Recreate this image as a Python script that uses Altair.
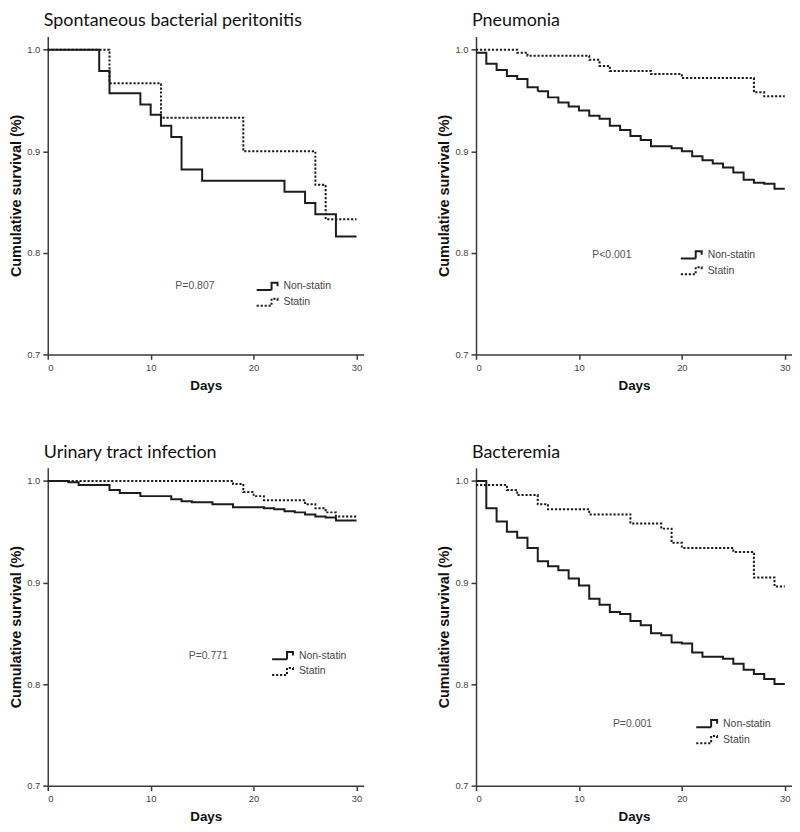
import altair as alt
import pandas as pd

groups = ["Non-statin", "Statin"]
x_ticks = [0, 10, 20, 30]
y_ticks = [0.7, 0.8, 0.9, 1.0]

panel_titles = ["Spontaneous bacterial peritonitis", "Pneumonia",
                "Urinary tract infection", "Bacteremia"]
p_labels = ["P=0.807", "P<0.001", "P=0.771", "P=0.001"]

# Spontaneous bacterial peritonitis
sbp_non_days = [0, 5, 6, 9, 10, 11, 12, 13, 15, 23, 25, 26, 28, 30]
sbp_non_surv = [1.0, 0.979, 0.957, 0.946, 0.936, 0.925, 0.914, 0.882, 0.871,
                0.860, 0.849, 0.838, 0.816, 0.816]
sbp_sta_days = [0, 6, 11, 19, 26, 27, 30]
sbp_sta_surv = [1.0, 0.967, 0.933, 0.900, 0.867, 0.833, 0.833]

# Pneumonia
pn_non_days = [0, 1, 2, 3, 4, 5, 6, 7, 8, 9, 10, 11, 12, 13, 14, 15, 16, 17,
               19, 20, 21, 22, 23, 24, 25, 26, 27, 28, 29, 30]
pn_non_surv = [0.997, 0.986, 0.980, 0.974, 0.971, 0.963, 0.959, 0.953, 0.948,
               0.944, 0.940, 0.935, 0.932, 0.925, 0.921, 0.915, 0.911, 0.905,
               0.903, 0.900, 0.895, 0.891, 0.888, 0.884, 0.879, 0.872, 0.869,
               0.868, 0.863, 0.863]
pn_sta_days = [0, 4, 5, 11, 12, 13, 17, 20, 27, 28, 30]
pn_sta_surv = [1.0, 0.997, 0.994, 0.990, 0.984, 0.979, 0.976, 0.972, 0.958,
               0.954, 0.954]

# Urinary tract infection
uti_non_days = [0, 2, 3, 6, 7, 9, 12, 13, 14, 16, 18, 21, 22, 23, 24, 25, 26,
                27, 28, 30]
uti_non_surv = [1.0, 0.9987, 0.996, 0.991, 0.988, 0.985, 0.982, 0.980, 0.979,
                0.977, 0.974, 0.973, 0.972, 0.970, 0.969, 0.967, 0.965, 0.964,
                0.961, 0.961]
uti_sta_days = [0, 18, 19, 20, 21, 25, 26, 27, 28, 30]
uti_sta_surv = [1.0, 0.997, 0.989, 0.985, 0.981, 0.977, 0.973, 0.969, 0.965,
                0.965]

# Bacteremia
bac_non_days = [0, 1, 2, 3, 4, 5, 6, 7, 8, 9, 10, 11, 12, 13, 14, 15, 16, 17,
                18, 19, 20, 21, 22, 24, 25, 26, 27, 28, 29, 30]
bac_non_surv = [1.0, 0.973, 0.960, 0.950, 0.944, 0.934, 0.921, 0.916, 0.912,
                0.904, 0.897, 0.884, 0.878, 0.871, 0.869, 0.862, 0.858, 0.850,
                0.848, 0.841, 0.840, 0.831, 0.827, 0.825, 0.820, 0.814, 0.810,
                0.805, 0.800, 0.800]
bac_sta_days = [0, 3, 4, 6, 7, 11, 15, 18, 19, 20, 25, 27, 29, 30]
bac_sta_surv = [0.996, 0.991, 0.986, 0.977, 0.972, 0.967, 0.958, 0.953, 0.939,
                0.934, 0.930, 0.905, 0.896, 0.896]

# annotation anchor points (day, survival) for P text and legend
p_anchor = [(14.3, 0.767), (13.2, 0.798), (15.6, 0.828), (15.2, 0.761)]
legend_anchor = [(20.2, 0.767), (19.8, 0.798), (21.7, 0.828), (21.3, 0.761)]

series = [
    (sbp_non_days, sbp_non_surv, sbp_sta_days, sbp_sta_surv),
    (pn_non_days, pn_non_surv, pn_sta_days, pn_sta_surv),
    (uti_non_days, uti_non_surv, uti_sta_days, uti_sta_surv),
    (bac_non_days, bac_non_surv, bac_sta_days, bac_sta_surv),
]

W, H = 318, 320
X_MAX, Y_MIN, Y_MAX = 30.7, 0.7, 1.013
INK = "#1c1c1c"
AXC = "#3a3a3a"
SYMBOL = "M-1,0.3H0.25V-0.3H0.75V0"


def panel(i):
    nd, ns, sd, ss = series[i]
    df = pd.concat([
        pd.DataFrame({"day": nd, "surv": ns, "group": groups[0]}),
        pd.DataFrame({"day": sd, "surv": ss, "group": groups[1]}),
    ])
    lx = legend_anchor[i][0] / X_MAX * W
    ly = (Y_MAX - legend_anchor[i][1]) / (Y_MAX - Y_MIN) * H - 8
    lines = alt.Chart(df).mark_line(
        interpolate="step-after", strokeWidth=2, color=INK
    ).encode(
        x=alt.X("day:Q", scale=alt.Scale(domain=[0, X_MAX], nice=False),
                axis=alt.Axis(values=x_ticks, title="Days", grid=False,
                              domainColor=AXC, domainWidth=1.5,
                              tickColor=AXC, tickWidth=1.5, tickSize=5,
                              labelFont="Liberation Sans", labelFontSize=9.5,
                              labelColor="#444", labelPadding=3,
                              titleFont="Liberation Sans", titleFontSize=13.5,
                              titleFontWeight="bold", titleColor="#111",
                              titlePadding=7)),
        y=alt.Y("surv:Q", scale=alt.Scale(domain=[Y_MIN, Y_MAX], nice=False, zero=False),
                axis=alt.Axis(values=y_ticks, format=".1f",
                              title="Cumulative survival (%)", grid=False,
                              domainColor=AXC, domainWidth=1.5,
                              tickColor=AXC, tickWidth=1.5, tickSize=5,
                              labelFont="Liberation Sans", labelFontSize=9.5,
                              labelColor="#444", labelPadding=3,
                              titleFont="Liberation Sans", titleFontSize=14.5,
                              titleFontWeight="bold", titleColor="#111",
                              titlePadding=3)),
        strokeDash=alt.StrokeDash(
            "group:N",
            scale=alt.Scale(domain=groups, range=[[1, 0], [2.2, 1.8]]),
            legend=alt.Legend(orient="none", legendX=lx, legendY=ly,
                              title=None, symbolType=SYMBOL, symbolSize=576,
                              symbolStrokeWidth=2, symbolStrokeColor=INK,
                              symbolFillColor="transparent",
                              labelFont="Liberation Sans", labelFontSize=10.5,
                              labelColor="#444", labelOffset=2,
                              clipHeight=16, rowPadding=0, padding=0),
        ),
    )
    ptxt = alt.Chart(pd.DataFrame({"label": [p_labels[i]]})).mark_text(
        font="Liberation Sans", fontSize=10.5, color="#555",
        align="center", baseline="middle"
    ).encode(
        x=alt.datum(p_anchor[i][0]),
        y=alt.datum(p_anchor[i][1]),
        text="label:N",
    )
    return alt.layer(lines, ptxt).properties(
        width=W, height=H,
        title=alt.TitleParams(panel_titles[i], anchor="start", frame="group",
                              font="Lato", fontSize=18, fontWeight="normal",
                              color="#111", offset=6, dx=-4),
    )


def res(c):
    return c.resolve_scale(strokeDash="independent").resolve_legend(strokeDash="independent")


row1 = res(alt.hconcat(panel(0), panel(1), spacing=73))
row2 = res(alt.hconcat(panel(2), panel(3), spacing=73))
chart = res(alt.vconcat(row1, row2, spacing=52)).properties(
    padding={"top": 2, "left": 0, "right": 0, "bottom": 0}
).configure_view(stroke=None)

chart.save("out.html", embed_options={"renderer": "svg", "actions": False})
